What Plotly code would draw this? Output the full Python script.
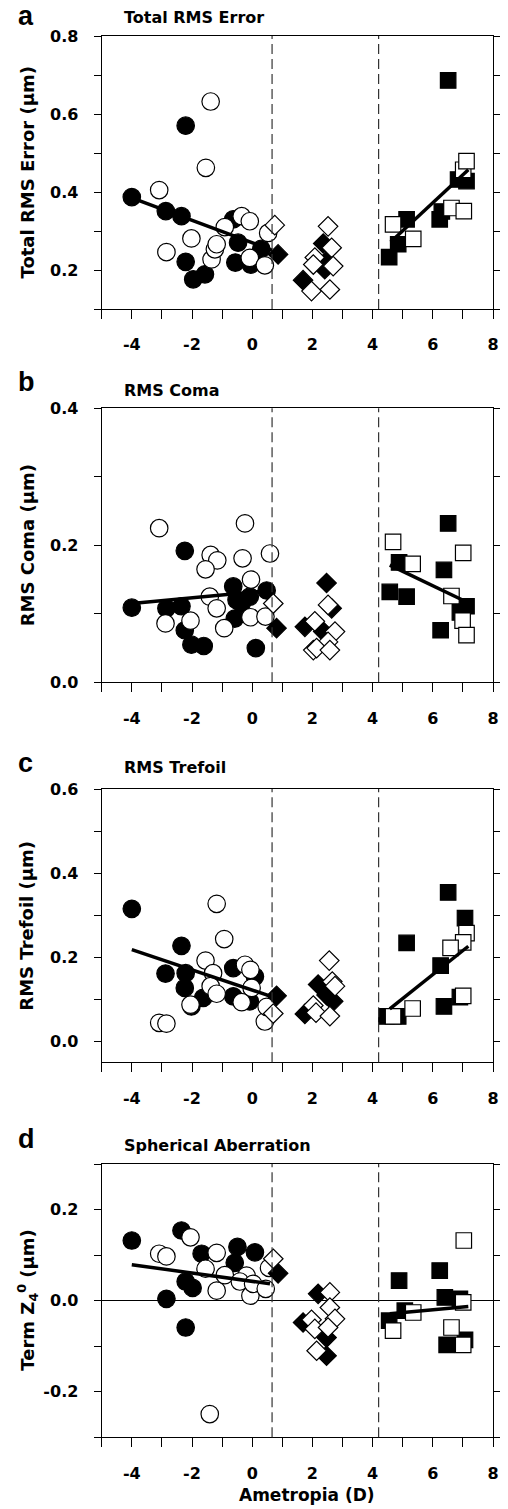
import plotly.graph_objects as go

# ---------------- DATA ----------------
# Panel a: Total RMS Error
a_fc_x = [-4.0, -2.87, -2.35, -2.21, -2.21, -1.96, -1.57, -0.63, -0.47, -0.56, -0.05, 0.3]
a_fc_y = [0.387, 0.351, 0.338, 0.570, 0.221, 0.176, 0.189, 0.330, 0.270, 0.219, 0.214, 0.254]
a_oc_x = [-3.09, -2.85, -2.02, -1.38, -1.54, -1.35, -1.24, -1.18, -0.91, -0.35, -0.08, -0.08, 0.42, 0.53]
a_oc_y = [0.405, 0.246, 0.281, 0.632, 0.462, 0.227, 0.253, 0.266, 0.310, 0.338, 0.325, 0.231, 0.212, 0.295]
a_fd_x = [0.86, 1.69, 2.36, 2.47, 2.41]
a_fd_y = [0.240, 0.174, 0.268, 0.223, 0.202]
a_od_x = [0.75, 2.52, 2.64, 2.08, 2.03, 2.69, 1.97, 2.58]
a_od_y = [0.315, 0.312, 0.257, 0.232, 0.214, 0.210, 0.146, 0.150]
a_fs_x = [4.55, 4.85, 5.13, 6.51, 6.23, 6.30, 6.84, 7.12]
a_fs_y = [0.233, 0.266, 0.330, 0.686, 0.330, 0.350, 0.432, 0.428]
a_os_x = [4.68, 5.35, 6.62, 7.03, 7.01, 7.12]
a_os_y = [0.317, 0.280, 0.359, 0.351, 0.457, 0.479]
a_fitL_x = [-4.0, 0.66]
a_fitL_y = [0.385, 0.251]
a_fitR_x = [4.6, 7.18]
a_fitR_y = [0.272, 0.457]

# Panel b: RMS Coma
b_fc_x = [-4.0, -2.24, -2.85, -2.35, -2.24, -2.02, -1.61, -0.63, -0.52, -0.58, -0.08, 0.48, 0.12, -0.35]
b_fc_y = [0.109, 0.192, 0.108, 0.111, 0.076, 0.055, 0.053, 0.140, 0.120, 0.093, 0.125, 0.134, 0.050, 0.115]
b_oc_x = [-3.09, -0.24, -1.38, -1.16, -1.55, -0.32, 0.59, -0.04, -1.41, -1.18, -2.05, -2.88, -0.93, -0.06, 0.44]
b_oc_y = [0.225, 0.232, 0.186, 0.178, 0.165, 0.181, 0.188, 0.150, 0.125, 0.108, 0.090, 0.086, 0.079, 0.095, 0.096]
b_fd_x = [0.81, 2.47, 2.64, 1.75, 2.36]
b_fd_y = [0.079, 0.145, 0.108, 0.081, 0.074]
b_od_x = [0.70, 2.52, 2.08, 2.75, 2.52, 2.03, 2.14, 2.58]
b_od_y = [0.115, 0.113, 0.089, 0.074, 0.059, 0.047, 0.050, 0.047]
b_fs_x = [6.51, 4.88, 4.57, 5.13, 6.37, 6.26, 6.90, 7.12]
b_fs_y = [0.232, 0.175, 0.132, 0.125, 0.164, 0.076, 0.102, 0.111]
b_os_x = [4.68, 5.33, 7.01, 6.62, 6.99, 7.12]
b_os_y = [0.205, 0.173, 0.189, 0.126, 0.090, 0.069]
b_fitL_x = [-4.0, 0.6]
b_fitL_y = [0.115, 0.134]
b_fitR_x = [4.57, 7.23]
b_fitR_y = [0.171, 0.115]

# Panel c: RMS Trefoil
c_fc_x = [-4.0, -2.35, -2.88, -2.21, -2.24, -2.02, -1.63, -0.63, -0.63, -0.08, 0.09]
c_fc_y = [0.315, 0.227, 0.161, 0.162, 0.127, 0.083, 0.103, 0.174, 0.107, 0.095, 0.154]
c_oc_x = [-1.18, -0.93, -1.55, -1.30, -1.38, -1.18, -2.05, -3.09, -2.85, -0.24, -0.06, -0.02, -0.35, 0.42, 0.48]
c_oc_y = [0.327, 0.243, 0.192, 0.162, 0.131, 0.113, 0.087, 0.044, 0.042, 0.182, 0.170, 0.127, 0.093, 0.047, 0.082]
c_fd_x = [0.81, 1.75, 2.19, 2.47, 2.69]
c_fd_y = [0.108, 0.065, 0.135, 0.110, 0.095]
c_od_x = [0.70, 2.56, 2.66, 2.75, 2.03, 2.12, 2.58]
c_od_y = [0.066, 0.192, 0.142, 0.131, 0.085, 0.068, 0.060]
c_fs_x = [6.51, 7.07, 5.13, 6.26, 6.37, 6.90, 4.46, 4.85]
c_fs_y = [0.354, 0.293, 0.234, 0.180, 0.083, 0.105, 0.059, 0.059]
c_os_x = [7.12, 7.01, 6.59, 7.01, 5.33, 4.68]
c_os_y = [0.257, 0.235, 0.222, 0.108, 0.078, 0.059]
c_fitL_x = [-4.0, 0.53]
c_fitL_y = [0.218, 0.109]
c_fitR_x = [4.57, 7.18]
c_fitR_y = [0.077, 0.226]

# Panel d: Spherical Aberration
d_fc_x = [-4.0, -2.35, -2.85, -2.21, -2.21, -1.98, -1.68, -0.49, -0.58, 0.09]
d_fc_y = [0.132, 0.154, 0.004, -0.059, 0.042, 0.028, 0.103, 0.118, 0.083, 0.106]
d_oc_x = [-2.05, -3.09, -2.85, -1.18, -1.55, -1.18, -0.91, -0.19, -0.41, -0.06, 0.03, 0.45, 0.56, -1.41]
d_oc_y = [0.139, 0.103, 0.097, 0.105, 0.070, 0.022, 0.056, 0.055, 0.042, 0.011, 0.037, 0.026, 0.072, -0.249]
d_fd_x = [0.86, 2.19, 1.69, 2.47, 2.47]
d_fd_y = [0.060, 0.015, -0.048, -0.081, -0.121]
d_od_x = [0.70, 2.58, 2.58, 1.97, 2.08, 2.75, 2.52, 2.14]
d_od_y = [0.092, 0.018, -0.015, -0.042, -0.062, -0.040, -0.059, -0.110]
d_fs_x = [6.23, 4.88, 6.40, 6.90, 4.55, 5.07, 6.46, 7.07]
d_fs_y = [0.066, 0.044, 0.007, 0.004, -0.044, -0.022, -0.097, -0.086]
d_os_x = [7.03, 7.01, 4.68, 5.35, 6.62, 7.01]
d_os_y = [0.132, -0.004, -0.066, -0.026, -0.059, -0.097]
d_fitL_x = [-4.0, 0.59]
d_fitL_y = [0.079, 0.037]
d_fitR_x = [4.57, 7.18]
d_fitR_y = [-0.029, -0.013]

group_bounds = [0.66, 4.2]
x_major_ticks = [-4, -2, 0, 2, 4, 6, 8]
x_major_text = ["-4", "-2", "0", "2", "4", "6", "8"]
x_minor_ticks = list(range(-5, 9))

panel_letters = ["a", "b", "c", "d"]
panel_titles = ["Total RMS Error", "RMS Coma", "RMS Trefoil", "Spherical Aberration"]
y_titles = ["Total RMS Error (µm)", "RMS Coma (µm)", "RMS Trefoil (µm)",
            "Term Z<sub>4</sub><sup>0</sup> (µm)"]
y_ranges = [[0.1, 0.8], [0.0, 0.4], [-0.05, 0.6], [-0.3, 0.3]]
y_major_ticks = [[0.2, 0.4, 0.6, 0.8],
                 [0.0, 0.2, 0.4],
                 [0.0, 0.2, 0.4, 0.6],
                 [-0.2, 0.0, 0.2]]
y_major_text = [["0.2", "0.4", "0.6", "0.8"],
                ["0.0", "0.2", "0.4"],
                ["0.0", "0.2", "0.4", "0.6"],
                ["-0.2", "0.0", "0.2"]]
y_minor_ticks = [[0.1, 0.3, 0.5, 0.7],
                 [0.1, 0.3],
                 [0.1, 0.3, 0.5],
                 [-0.3, -0.1, 0.1, 0.3]]

# ---------------- LAYOUT CONSTANTS ----------------
# the page body adds an 8 px margin, so the figure is 8 px smaller and all
# reference pixel positions are shifted by -8
OFF = 8
W, H = 508 - OFF, 1509 - OFF
PX0, PX1 = 101.7 - OFF, 493.0 - OFF
panel_px = [(36, 309), (408.3, 682.3), (789, 1062.3), (1164, 1437.3)]
title_y = [17, 390, 767.7, 1145]
letter_y = [16, 382, 763, 1139]

FONT = "DejaVu Sans"
fig = go.Figure()

panel_data = [
    (a_fc_x, a_fc_y, a_oc_x, a_oc_y, a_fd_x, a_fd_y, a_od_x, a_od_y,
     a_fs_x, a_fs_y, a_os_x, a_os_y, a_fitL_x, a_fitL_y, a_fitR_x, a_fitR_y),
    (b_fc_x, b_fc_y, b_oc_x, b_oc_y, b_fd_x, b_fd_y, b_od_x, b_od_y,
     b_fs_x, b_fs_y, b_os_x, b_os_y, b_fitL_x, b_fitL_y, b_fitR_x, b_fitR_y),
    (c_fc_x, c_fc_y, c_oc_x, c_oc_y, c_fd_x, c_fd_y, c_od_x, c_od_y,
     c_fs_x, c_fs_y, c_os_x, c_os_y, c_fitL_x, c_fitL_y, c_fitR_x, c_fitR_y),
    (d_fc_x, d_fc_y, d_oc_x, d_oc_y, d_fd_x, d_fd_y, d_od_x, d_od_y,
     d_fs_x, d_fs_y, d_os_x, d_os_y, d_fitL_x, d_fitL_y, d_fitR_x, d_fitR_y),
]


def px_x(v):
    return (v - OFF) / W


def px_y(v):
    return 1 - (v - OFF) / H


CIRC, DIAM, SQ = 17.5, 15, 15.5
annotations = []
shapes = []
for i, pdata in enumerate(panel_data):
    (fcx, fcy, ocx, ocy, fdx, fdy, odx, ody, fsx, fsy, osx, osy,
     flx, fly, frx, fry) = pdata
    n = "" if i == 0 else str(i + 1)
    xa, ya = "x" + n, "y" + n

    def sc(x, y, sym, size, fill):
        fig.add_trace(go.Scatter(
            x=x, y=y, mode="markers", xaxis=xa, yaxis=ya, showlegend=False,
            marker=dict(symbol=sym, size=size, color=fill,
                        line=dict(color="black", width=1.2))))

    sc(fcx, fcy, "circle", CIRC, "black")
    sc(ocx, ocy, "circle", CIRC, "white")
    sc(fdx, fdy, "diamond", DIAM, "black")
    sc(odx, ody, "diamond", DIAM, "white")
    sc(fsx, fsy, "square", SQ, "black")
    sc(osx, osy, "square", SQ, "white")
    for lx, ly in ((flx, fly), (frx, fry)):
        fig.add_trace(go.Scatter(x=lx, y=ly, mode="lines", xaxis=xa, yaxis=ya,
                                 showlegend=False,
                                 line=dict(color="black", width=3.5)))

    top, bot = panel_px[i]
    ydom = [px_y(bot), px_y(top)]
    xdom = [PX0 / W, PX1 / W]
    fig.layout["xaxis" + n] = dict(
        domain=xdom, anchor=ya, range=[-5, 8], tickvals=x_major_ticks,
        ticktext=x_major_text,
        ticks="outside", ticklen=9, tickwidth=1.2, tickcolor="black",
        minor=dict(tickvals=x_minor_ticks, ticks="outside", ticklen=9,
                   tickwidth=1.2, tickcolor="black", showgrid=False),
        showline=True, linecolor="black", linewidth=1.3, automargin=False,
        mirror=True, showgrid=False, zeroline=False, ticklabelstandoff=12,
        tickfont=dict(family=FONT, size=16, color="black", weight="bold"))
    fig.layout["yaxis" + n] = dict(
        domain=ydom, anchor=xa, range=y_ranges[i], tickvals=y_major_ticks[i],
        ticktext=y_major_text[i],
        ticks="outside", ticklen=7, tickwidth=1.2, tickcolor="black",
        minor=dict(tickvals=y_minor_ticks[i], ticks="outside", ticklen=7,
                   tickwidth=1.2, tickcolor="black", showgrid=False),
        showline=True, linecolor="black", linewidth=1.3, automargin=False,
        mirror="ticks", showgrid=False, zeroline=(i == 3), zerolinecolor="black",
        zerolinewidth=1, ticklabelstandoff=12,
        tickfont=dict(family=FONT, size=16, color="black", weight="bold"))

    for gb in group_bounds:
        shapes.append(dict(type="line", xref=xa, yref=ya + " domain", x0=gb, x1=gb,
                           y0=0, y1=1, line=dict(color="#333333", width=1.2,
                                                 dash="10px,5px")))

    annotations.append(dict(text=panel_letters[i], xref="paper", yref="paper",
                            x=px_x(16), y=px_y(letter_y[i]), xanchor="left",
                            yanchor="middle", showarrow=False,
                            font=dict(family="Liberation Sans", size=27,
                                      color="black", weight="bold")))
    annotations.append(dict(text=panel_titles[i], xref="paper", yref="paper",
                            x=px_x(122), y=px_y(title_y[i]), xanchor="left",
                            yanchor="middle", showarrow=False,
                            font=dict(family=FONT, size=16, color="black",
                                      weight="bold")))
    annotations.append(dict(text=y_titles[i], xref="paper", yref="paper",
                            x=px_x(27), y=px_y((top + bot) / 2), xanchor="center",
                            yanchor="middle", textangle=-90, showarrow=False,
                            font=dict(family=FONT, size=18, color="black",
                                      weight="bold")))

annotations.append(dict(text="Ametropia (D)", xref="paper", yref="paper",
                        x=px_x(307), y=px_y(1495), xanchor="center",
                        yanchor="middle", showarrow=False,
                        font=dict(family=FONT, size=17, color="black",
                                  weight="bold")))

fig.update_layout(width=W, height=H, autosize=False,
                  margin=dict(l=0, r=0, t=0, b=0, pad=0, autoexpand=False),
                  plot_bgcolor="white", paper_bgcolor="white",
                  annotations=annotations, shapes=shapes)

fig.write_html("out.html")
